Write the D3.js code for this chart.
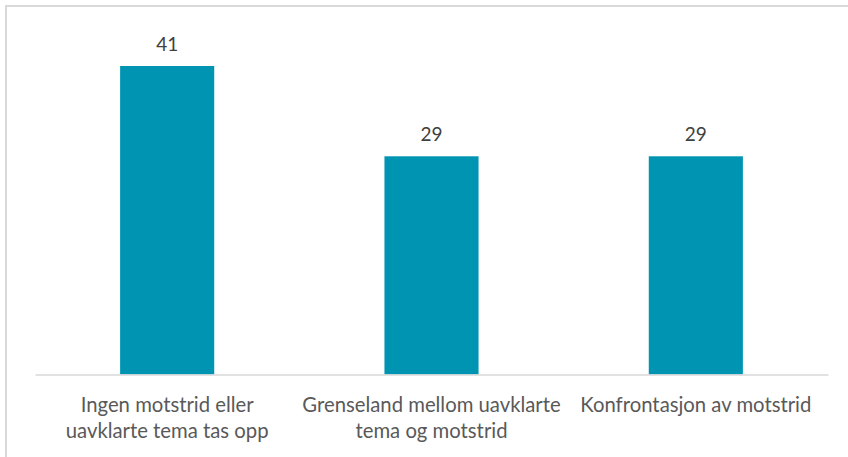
<!DOCTYPE html>
<html>
<head>
<meta charset="utf-8">
<script src="https://cdn.jsdelivr.net/npm/d3@7"></script>
<style>
  body { margin: 0; background: #fff; }
  svg { display: block; font-family: "Source Sans Pro", "Lato", sans-serif; }
</style>
</head>
<body>
<svg id="svg" width="848" height="457"></svg>
<script>
// kategorier og verdier
const categories = ["A", "B", "C"];
const values = [41, 29, 29];
// akseetiketter, en linje per element
const tickLabels = [
  ["Ingen motstrid eller", "uavklarte tema tas opp"],
  ["Grenseland mellom uavklarte", "tema og motstrid"],
  ["Konfrontasjon av motstrid"]
];

const svg = d3.select("#svg");
const plotLeft = 35, plotRight = 828, baseY = 374.5;

// ramme (bare venstre og topp synlig)
svg.append("path")
  .attr("d", "M 6 457 L 6 6 L 848 6")
  .attr("fill", "none")
  .attr("stroke", "#d9d9d9")
  .attr("stroke-width", 2);

const x = d3.scaleBand()
  .domain(categories)
  .range([plotLeft, plotRight])
  .paddingInner(0.644)
  .paddingOuter(0.322);

const y = d3.scaleLinear()
  .domain([0, 41])
  .range([baseY, 66]);

// stolper
svg.selectAll(".bar")
  .data(values)
  .enter()
  .append("rect")
  .attr("class", "bar")
  .attr("x", (d, i) => x(categories[i]))
  .attr("y", d => y(d))
  .attr("width", x.bandwidth())
  .attr("height", d => y(0) - y(d))
  .attr("fill", "#0094b3");

// verdietiketter
svg.selectAll(".val")
  .data(values)
  .enter()
  .append("text")
  .attr("class", "val")
  .attr("x", (d, i) => x(categories[i]) + x.bandwidth() / 2)
  .attr("y", d => y(d) - 15)
  .attr("text-anchor", "middle")
  .attr("font-size", 19)
  .attr("fill", "#404040")
  .text(d => d);

// x-akse
const axis = svg.append("g")
  .attr("transform", `translate(0,${baseY})`)
  .call(d3.axisBottom(x).tickSize(0).tickFormat(""));
axis.select(".domain").attr("stroke", "#d9d9d9").attr("stroke-width", 1.5);

// kategorietiketter
const lbl = svg.selectAll(".lbl")
  .data(tickLabels)
  .enter()
  .append("text")
  .attr("class", "lbl")
  .attr("x", (d, i) => x(categories[i]) + x.bandwidth() / 2)
  .attr("y", 412)
  .attr("text-anchor", "middle")
  .attr("font-size", 20.3)
  .attr("fill", "#595959");
lbl.selectAll("tspan")
  .data(d => d)
  .enter()
  .append("tspan")
  .attr("x", function () { return this.parentNode.getAttribute("x"); })
  .attr("dy", (d, i) => i === 0 ? 0 : 26)
  .text(d => d);
</script>
</body>
</html>
